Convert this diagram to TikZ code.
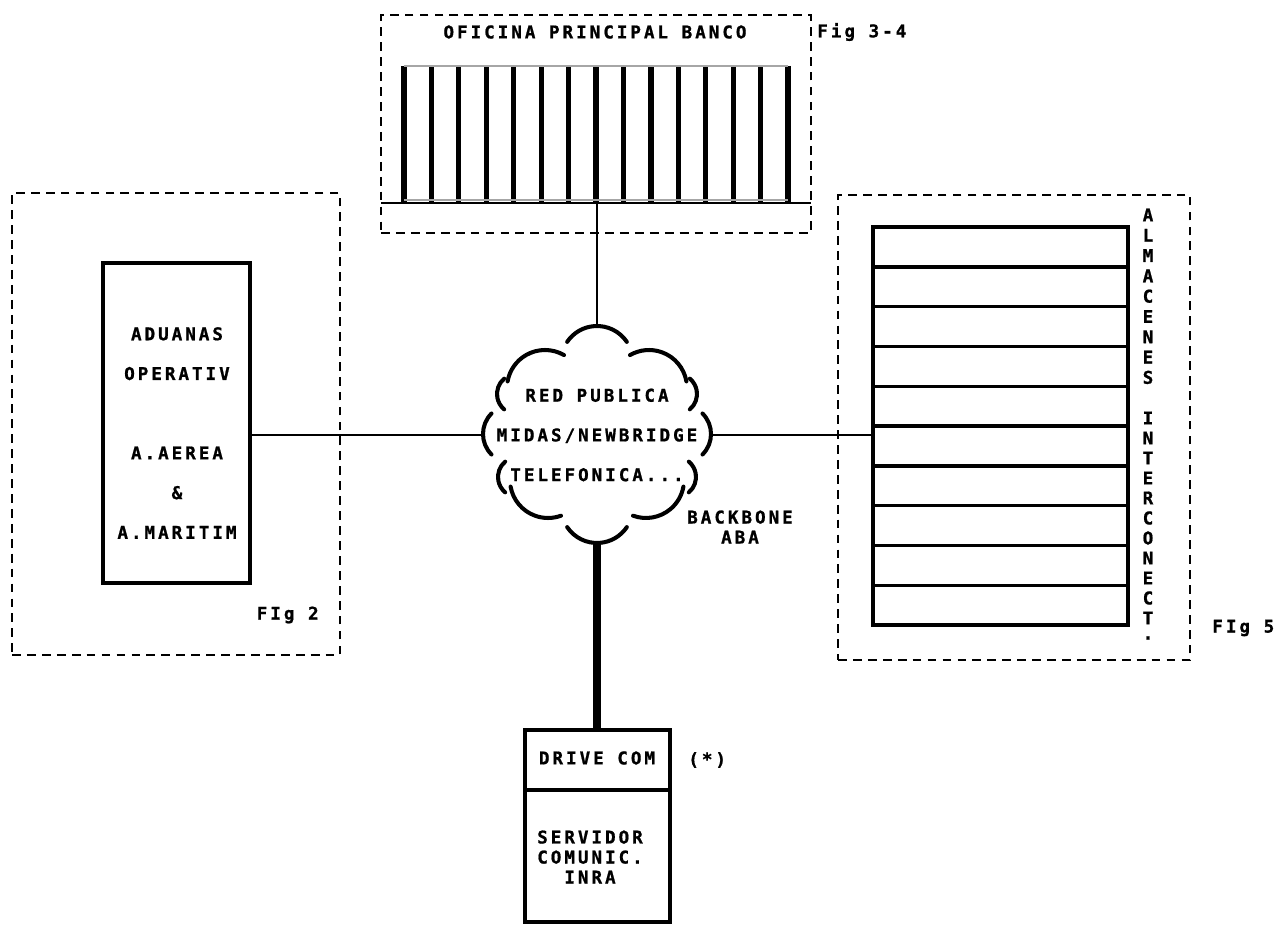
\documentclass[tikz,border=0pt]{standalone}
\usepackage{fontspec}
\newfontfamily\diagfont[LetterSpace=17, BoldFeatures={FakeBold=1}]{DejaVu Sans Mono}
\usetikzlibrary{positioning}

\begin{document}
\begin{tikzpicture}[x=0.02cm,y=0.02cm,
  frame/.style={draw, dash pattern=on 5pt off 3.5pt, line width=1.1pt, inner sep=0pt, outer sep=0pt},
  unit/.style={draw, line width=2.5pt, inner sep=0pt, outer sep=0pt},
  lbl/.style={font=\diagfont\bfseries\fontsize{10}{11.4}\selectfont, inner sep=0pt, align=center},
  lbl wide/.style={lbl, font=\diagfont\bfseries\fontsize{10}{22.6}\selectfont},
  puff/.style={line width=2.3pt, line cap=round},
  link/.style={line width=0.9pt},
  bar/.style={line width=3pt}]
\useasboundingbox (0,0) rectangle (1282,-925);

% Frames
\node[frame, minimum width=8.6cm, minimum height=4.36cm] (ofi) at (596,-124) {};
\node[frame, minimum width=6.56cm, minimum height=9.24cm] (adf) at (176,-424) {};
\node[frame, minimum width=7.04cm, minimum height=9.3cm] (alf) at (1014,-427.5) {};

% Oficina principal
\node[lbl] (ofit) at (595,-32) {OFICINA PRINCIPAL BANCO};
\node[lbl, anchor=west] (fig34) at (817,-32) {Fig 3-4};
\foreach \i in {0,...,14}
  \draw[bar] (404+\i*27.43,-66) -- (404+\i*27.43,-203);
\draw[black!35, line width=0.6pt] (404,-66) -- (788,-66) (404,-200) -- (788,-200);
\coordinate (busW) at (381,-203);
\coordinate (busE) at (811,-203);
\coordinate (tap) at (597,-203);
\draw[link] (busW) -- (busE);

% Red publica
\node[lbl wide] (red) at (597,-435) {RED PUBLICA\\MIDAS/NEWBRIDGE\\TELEFONICA...};
\foreach \cx/\cy/\r/\a/\b in {597/-362/0.72/34/146, 545/-388/0.76/60/170, 649/-388/0.76/10/120,
    517/-394/0.4/130/230, 512/-434/0.58/135/225, 518/-477/0.4/130/230,
    677/-394/0.4/-50/50, 682/-434/0.58/-45/45, 676/-477/0.4/-50/50,
    548/-480/0.76/190/290, 646/-480/0.76/250/350, 597/-507/0.72/214/326}
  \draw[puff] ([shift={(\a:\r cm)}]\cx,\cy) arc[start angle=\a, end angle=\b, radius=\r cm];
\coordinate (cN) at (597,-326);
\coordinate (cS) at (597,-543);
\coordinate (cW) at (483,-435);
\coordinate (cE) at (711,-435);
\node[lbl] (bb) at (740,-527) {BACKBONE\\ABA};

% Aduanas
\node[unit, minimum width=2.94cm, minimum height=6.4cm] (adu) at (176.5,-423) {};
\node[lbl wide] (adut) at (177,-433) {ADUANAS\\OPERATIV\\[22.6pt]A.AEREA\\\&\\A.MARITIM};
\node[lbl, anchor=east] (fig2) at (319,-615) {FIg 2};

% Almacenes
\node[unit, minimum width=5.1cm, minimum height=7.96cm] (alm) at (1000.5,-426) {};
\foreach \k/\w in {1/2.5,2/1.8,3/1.8,4/1.8,5/1.8,6/2.5,7/1.8,8/1.8,9/1.8}
  \draw[line width=\w pt] (873,-227-\k*39.8) -- (1128,-227-\k*39.8);
\foreach \c [count=\k from 0] in {A,L,M,A,C,E,N,E,S}
  \node[lbl] (a\k) at (1148,-215-\k*20.3) {\c};
\foreach \c [count=\k from 0] in {I,N,T,E,R,C,O,N,E,C,T,.}
  \node[lbl] (b\k) at (1148,-418-\k*20) {\c};
\node[lbl, anchor=west] (fig5) at (1212,-628) {FIg 5};

% Servidor
\node[unit, minimum width=2.9cm, minimum height=1.2cm] (drive) at (597.5,-760) {};
\node[unit, minimum width=2.9cm, minimum height=2.64cm] (serv) at (597.5,-856) {};
\node[lbl] (drivet) at (597,-758) {DRIVE COM};
\node[lbl] (servt) at (590,-857) {SERVIDOR\\COMUNIC.\\INRA};
\node[lbl, right=0.36cm of drive] (ast) {(*)};

% Links
\draw[link] (tap) -- (cN);
\draw[link] (adu.east |- cW) -- (cW);
\draw[link] (cE) -- (alm.west |- cE);
\draw[line width=4pt] (cS) -- (cS |- drive.north);
\end{tikzpicture}
\end{document}
